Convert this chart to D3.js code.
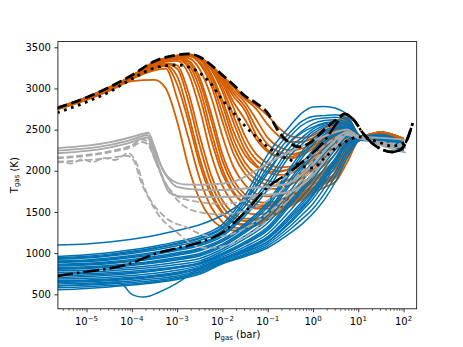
<!DOCTYPE html>
<html>
<head>
<meta charset="UTF-8">
<title>T-p profiles</title>
<script src="https://cdn.jsdelivr.net/npm/d3@7"></script>
<style>
body { margin: 0; background: #fff; }
text { font-family: "DejaVu Sans", sans-serif; }
</style>
</head>
<body>
<svg id="chart" width="463" height="347"></svg>
<script>
// ---- data: log10(p / bar) grids and gas temperatures (K) ----
var orangeLogP = [-5.65,-5,-4.5,-4,-3.5,-3.25,-3,-2.75,-2.5,-2.25,-2,-1.75,-1.5,-1.25,-1,-0.75,-0.5,-0.25,0,0.25,0.5,0.75,1.05,1.5,2.0];
var orangeT = [
  [2745,2860,2970,3090,3105,3000,2600,2050,1650,1420,1310,1275,1290,1340,1410,1490,1570,1650,1730,1800,1870,2100,2390,2420,2330],
  [2748,2866,2980,3115,3220,3240,2880,2400,1900,1560,1380,1310,1300,1340,1410,1490,1580,1670,1760,1840,1920,2160,2395,2430,2340],
  [2749,2867,2982,3118,3240,3270,3050,2600,2080,1700,1480,1370,1340,1360,1420,1500,1590,1680,1770,1850,1940,2200,2398,2435,2345],
  [2750,2868,2984,3120,3255,3295,3240,2850,2300,1850,1570,1430,1390,1400,1450,1520,1610,1700,1790,1870,1970,2240,2400,2440,2350],
  [2750,2870,2988,3124,3250,3280,3150,2690,2150,1750,1500,1380,1350,1370,1430,1510,1600,1690,1780,1860,1950,2220,2400,2440,2350],
  [2752,2872,2992,3128,3265,3305,3280,2950,2420,1950,1640,1480,1420,1420,1460,1530,1620,1710,1800,1880,1980,2260,2400,2440,2350],
  [2754,2876,2996,3132,3280,3325,3335,3180,2750,2200,1820,1600,1500,1470,1490,1550,1640,1730,1830,1920,2030,2300,2405,2450,2360],
  [2755,2878,2998,3135,3285,3335,3355,3250,2900,2380,1960,1720,1600,1560,1570,1620,1700,1790,1890,1990,2110,2350,2405,2450,2360],
  [2756,2880,3000,3138,3290,3340,3365,3290,3000,2480,2020,1740,1600,1540,1540,1590,1670,1760,1860,1960,2080,2340,2410,2450,2360],
  [2757,2881,3001,3140,3295,3345,3370,3320,3080,2620,2120,1820,1660,1590,1580,1620,1690,1780,1880,1990,2120,2370,2408,2452,2362],
  [2758,2882,3002,3142,3300,3350,3375,3340,3130,2700,2200,1880,1710,1630,1610,1640,1710,1800,1900,2010,2140,2380,2410,2455,2365],
  [2758,2884,3004,3145,3305,3355,3378,3370,3230,2900,2420,2040,1830,1720,1690,1700,1760,1850,1950,2070,2210,2420,2415,2460,2370],
  [2759,2885,3005,3146,3308,3357,3382,3392,3320,3100,2700,2290,2030,1890,1830,1820,1860,1940,2040,2160,2310,2480,2416,2462,2376],
  [2760,2886,3006,3146,3310,3358,3384,3395,3300,3040,2600,2200,1960,1830,1780,1780,1830,1910,2010,2130,2280,2460,2415,2460,2375],
  [2760,2887,3007,3147,3312,3360,3388,3405,3350,3150,2800,2380,2100,1950,1880,1860,1900,1970,2070,2190,2340,2500,2420,2465,2380],
  [2761,2888,3008,3148,3312,3362,3390,3408,3360,3180,2860,2470,2190,2050,1990,1990,2030,2110,2210,2330,2460,2560,2420,2465,2380],
  [2762,2888,3008,3148,3315,3364,3392,3410,3370,3230,2960,2580,2250,2070,1980,1950,1970,2040,2130,2250,2390,2540,2420,2465,2380],
  [2762,2888,3008,3148,3316,3363,3391,3409,3372,3245,3010,2660,2330,2130,2040,2000,2010,2070,2160,2280,2420,2555,2420,2467,2382],
  [2763,2889,3009,3149,3318,3366,3394,3411,3375,3260,3060,2760,2420,2200,2090,2040,2050,2110,2200,2310,2440,2570,2420,2470,2385],
  [2763,2889,3009,3149,3318,3366,3395,3412,3376,3250,3090,2830,2620,2380,2230,2170,2170,2220,2300,2400,2510,2610,2420,2470,2385],
  [2764,2890,3010,3150,3318,3367,3396,3412,3378,3260,3110,2900,2730,2430,2250,2170,2150,2190,2270,2370,2490,2600,2420,2470,2385],
  [2764,2890,3010,3150,3319,3367,3396,3412,3379,3262,3120,2940,2780,2520,2320,2230,2200,2230,2300,2400,2510,2610,2420,2468,2388],
  [2764,2890,3010,3150,3320,3368,3397,3413,3380,3265,3130,2975,2830,2620,2400,2290,2250,2270,2340,2430,2530,2620,2420,2465,2390],
  [2765,2890,3010,3150,3320,3369,3398,3413,3380,3270,3145,3010,2870,2750,2560,2420,2350,2350,2400,2480,2570,2640,2420,2460,2390],
  [2765,2891,3012,3152,3322,3370,3400,3414,3375,3275,3150,3025,2890,2790,2670,2520,2420,2400,2430,2510,2600,2650,2420,2460,2390]
];

var blueLogP = [-5.65,-5,-4.5,-4,-3.5,-3,-2.5,-2,-1.5,-1,-0.5,-0.25,0,0.25,0.5,0.75,1.05,1.5,2.0];
var blueT = [
  [1100,1112,1135,1170,1215,1275,1345,1460,1650,2000,2350,2460,2530,2580,2600,2570,2420,2440,2340],
  [960,980,1005,1040,1085,1140,1210,1350,1700,2200,2550,2700,2775,2780,2760,2680,2420,2440,2340],
  [945,962,988,1022,1066,1120,1188,1320,1650,2120,2470,2600,2660,2670,2680,2640,2410,2430,2330],
  [935,950,975,1010,1055,1110,1178,1300,1610,2050,2420,2550,2620,2640,2650,2620,2405,2430,2330],
  [925,940,964,996,1038,1090,1155,1275,1570,1970,2360,2480,2570,2610,2620,2590,2400,2430,2330],
  [905,918,940,970,1010,1060,1122,1240,1510,1880,2290,2400,2510,2570,2590,2575,2400,2420,2320],
  [895,908,929,958,997,1046,1107,1225,1480,1830,2240,2360,2480,2550,2575,2570,2400,2420,2320],
  [885,898,918,946,984,1032,1092,1205,1450,1770,2190,2320,2450,2530,2560,2560,2400,2420,2320],
  [865,876,895,922,958,1004,1060,1170,1360,1620,2040,2230,2390,2490,2530,2545,2400,2410,2310],
  [855,865,883,909,944,989,1044,1155,1340,1590,2000,2190,2355,2465,2515,2538,2398,2410,2310],
  [845,855,872,897,931,975,1028,1140,1320,1560,1970,2150,2320,2440,2500,2530,2395,2410,2310],
  [825,834,850,873,905,946,996,1110,1285,1510,1900,2080,2250,2390,2470,2510,2395,2400,2300],
  [815,824,839,861,892,932,981,1095,1268,1485,1865,2045,2215,2360,2450,2500,2392,2400,2300],
  [805,814,828,850,880,918,966,1080,1250,1460,1830,2010,2180,2330,2430,2490,2390,2400,2300],
  [785,793,806,826,854,890,936,1050,1210,1410,1760,1940,2110,2270,2390,2470,2390,2390,2290],
  [765,772,784,803,829,863,906,1025,1175,1365,1700,1870,2040,2210,2350,2450,2390,2390,2290],
  [745,752,763,780,804,836,885,1000,1140,1320,1640,1800,1970,2150,2310,2430,2385,2380,2280],
  [725,734,746,764,790,825,876,988,1125,1298,1610,1770,1935,2120,2285,2415,2385,2380,2280],
  [705,715,730,752,782,820,868,975,1110,1275,1580,1740,1900,2090,2260,2400,2385,2380,2280],
  [685,694,708,728,756,792,848,955,1080,1235,1520,1680,1840,2030,2210,2370,2380,2370,2270],
  [665,674,687,706,733,768,830,935,1055,1200,1470,1620,1780,1970,2160,2340,2380,2370,2270],
  [655,664,676,695,722,756,821,928,1042,1185,1445,1590,1750,1940,2135,2325,2380,2365,2265],
  [645,654,666,684,710,744,812,920,1030,1170,1420,1560,1720,1910,2110,2310,2380,2360,2260],
  [625,634,646,663,688,722,795,905,1010,1140,1370,1510,1660,1850,2060,2280,2375,2360,2260],
  [605,614,626,643,668,703,778,890,990,1115,1330,1460,1600,1790,2000,2240,2375,2350,2250],
  [580,592,606,625,652,688,762,880,975,1090,1290,1410,1540,1720,1940,2200,2370,2350,2250],
  [555,572,590,612,640,680,745,870,960,1065,1245,1350,1480,1650,1870,2150,2370,2340,2240]
];
// the one blue profile with a cold dip near 1e-4 bar
var blueDipLogP = [-5.65,-5,-4.5,-4.33,-4.15,-4.04,-3.9,-3.75,-3.6,-3.44,-3,-2.56,-1.96,-1.5,-1,-0.5,0,0.5,0.75,1.05,1.5,2.0];
var blueDipT = [600,618,638,648,590,516,478,467,480,516,637,796,940,1020,1140,1390,1700,2100,2330,2380,2350,2250];

// gray profiles, [log10 p, T] pairs
var graySolid = [
  [[-5.65,2275],[-5,2305],[-4.5,2345],[-4,2410],[-3.75,2450],[-3.64,2462],[-3.5,2290],[-3.33,2030],[-3.1,1880],[-2.85,1835],[-2.5,1830],[-2,1845],[-1.75,1865],[-1.5,1930],[-1.17,2034],[-0.9,2120],[-0.66,2190],[-0.25,2300],[0,2360],[0.5,2470],[0.75,2500],[1.05,2410],[1.5,2400],[2.05,2375]],
  [[-5.65,2245],[-5,2272],[-4.5,2312],[-4,2378],[-3.75,2425],[-3.66,2435],[-3.5,2240],[-3.22,1925],[-3,1805],[-2.5,1770],[-2.12,1767],[-1.39,1790],[-0.66,1830],[-0.25,1950],[0,2080],[0.5,2380],[0.75,2470],[1.05,2400],[1.5,2310],[2.05,2220]],
  [[-5.65,2213],[-5,2242],[-4.5,2282],[-4,2348],[-3.75,2395],[-3.66,2405],[-3.5,2200],[-3.16,1730],[-2.87,1685],[-2.12,1682],[-1.39,1694],[-0.5,1745],[0,1950],[0.5,2290],[0.75,2440],[1.05,2400],[1.5,2340],[2.05,2300]]
];
var grayDashed = [
  [[-5.65,2160],[-5,2192],[-4.5,2236],[-4,2310],[-3.77,2380],[-3.64,2350],[-3.5,2150],[-3.3,1890],[-3,1690],[-2.76,1645],[-2.5,1620],[-2,1600],[-1.5,1640],[-1,1760],[-0.5,1970],[0,2200],[0.5,2400],[0.75,2470],[1.05,2400],[1.5,2350],[2.05,2320]],
  [[-5.65,2150],[-5,2182],[-4.5,2224],[-4,2290],[-3.77,2350],[-3.65,2320],[-3.45,2080],[-3.2,1800],[-2.87,1580],[-2.43,1490],[-2,1470],[-1.5,1510],[-1,1640],[-0.5,1860],[0,2120],[0.5,2360],[0.75,2450],[1.05,2400],[1.5,2340],[2.05,2300]],
  [[-5.65,2095],[-5.59,2107],[-5.32,2090],[-5.1,2143],[-4.88,2107],[-4.59,2155],[-4.37,2131],[-4.08,2216],[-3.93,2131],[-3.7,1767],[-3.27,1439],[-2.76,1305],[-2.54,1244],[-2.2,1200],[-2,1205],[-1.5,1300],[-1,1480],[-0.5,1740],[0,2030],[0.5,2320],[0.75,2440],[1.05,2390],[1.5,2320],[2.05,2280]],
  [[-5.65,2110],[-5,2130],[-4.5,2155],[-4.1,2180],[-3.95,2120],[-3.82,1900],[-3.6,1640],[-3.44,1487],[-3,1250],[-2.71,1123],[-2.34,1062],[-2,1080],[-1.5,1200],[-1,1400],[-0.5,1670],[0,1980],[0.5,2300],[0.75,2430],[1.05,2390],[1.5,2330],[2.05,2280]]
];

// black reference profiles
var dashedLogP = [-5.65,-5,-4.5,-4,-3.5,-3,-2.75,-2.5,-2.25,-2,-1.75,-1.5,-1.25,-1,-0.75,-0.5,-0.3,-0.1,0.25,0.5,0.7,0.9,1.1,1.3,1.5,1.75,1.95,2.1,2.2];
var dashedT = [2762,2890,3015,3160,3330,3407,3419,3383,3285,3164,3042,2908,2820,2700,2470,2330,2290,2330,2500,2617,2690,2617,2459,2338,2265,2228,2265,2411,2580];
var dottedLogP = [-5.65,-5,-4.5,-4,-3.5,-3,-2.75,-2.5,-2.25,-2,-1.75,-1.5,-1.25,-1,-0.75,-0.5,-0.25,0,0.25,0.5,0.75,1,1.25,1.5,1.75,2.05];
var dottedT = [2705,2836,2957,3115,3249,3285,3261,3188,3054,2860,2702,2544,2411,2289,2192,2131,2058,2034,2155,2277,2362,2411,2386,2338,2301,2345];
var dashDotLogP = [-5.65,-5,-4.5,-4,-3.5,-3,-2.5,-2,-1.5,-1,-0.5,0,0.25,0.5,0.7,0.9,1.1,1.3,1.5,1.75,1.95,2.1,2.2];
var dashDotT = [723,775,813,880,990,1060,1130,1250,1500,1800,1990,2220,2360,2560,2690,2617,2459,2338,2265,2228,2265,2411,2580];

var yTicks = [500,1000,1500,2000,2500,3000,3500];
var xDecades = [-5,-4,-3,-2,-1,0,1,2];

// ---- layout ----
var svg = d3.select("#chart");
var mLeft = 57.9, mRight = 416.7, mTop = 41.6, mBottom = 308.8;

svg.append("rect").attr("width", 463).attr("height", 347).attr("fill", "white");

var xScale = d3.scaleLog().domain([Math.pow(10, -5.632), Math.pow(10, 2.289)]).range([mLeft, mRight]);
var yScale = d3.scaleLinear().domain([324, 3569]).range([mBottom, mTop]);

svg.append("clipPath").attr("id", "plotClip")
  .append("rect").attr("x", mLeft).attr("y", mTop).attr("width", mRight - mLeft).attr("height", mBottom - mTop);

var line = d3.line()
  .x(function(d) { return xScale(Math.pow(10, d[0])); })
  .y(function(d) { return yScale(d[1]); })
  .curve(d3.curveMonotoneX);

function zip(lp, t) { return lp.map(function(v, i) { return [v, t[i]]; }); }

var plot = svg.append("g").attr("clip-path", "url(#plotClip)");

// orange first, then blue, gray, black on top
plot.append("g").selectAll("path").data(orangeT).enter().append("path")
  .attr("d", function(row) { return line(zip(orangeLogP, row)); })
  .attr("fill", "none").attr("stroke", "#D55E00").attr("stroke-width", 1.8);

plot.append("g").selectAll("path").data(blueT).enter().append("path")
  .attr("d", function(row) { return line(zip(blueLogP, row)); })
  .attr("fill", "none").attr("stroke", "#0072B2").attr("stroke-width", 1.5);
plot.append("path").attr("d", line(zip(blueDipLogP, blueDipT)))
  .attr("fill", "none").attr("stroke", "#0072B2").attr("stroke-width", 1.5);

plot.append("g").selectAll("path").data(grayDashed).enter().append("path")
  .attr("d", line)
  .attr("fill", "none").attr("stroke", "#A9A9A9").attr("stroke-width", 1.8)
  .attr("stroke-dasharray", "6.7,2.9");
plot.append("g").selectAll("path").data(graySolid).enter().append("path")
  .attr("d", line)
  .attr("fill", "none").attr("stroke", "#A9A9A9").attr("stroke-width", 1.9);

plot.append("path").attr("d", line(zip(dashDotLogP, dashDotT)))
  .attr("fill", "none").attr("stroke", "black").attr("stroke-width", 2.5)
  .attr("stroke-dasharray", "16,4,2.5,4");
plot.append("path").attr("d", line(zip(dottedLogP, dottedT)))
  .attr("fill", "none").attr("stroke", "black").attr("stroke-width", 2.8)
  .attr("stroke-dasharray", "2.8,4.6");
plot.append("path").attr("d", line(zip(dashedLogP, dashedT)))
  .attr("fill", "none").attr("stroke", "black").attr("stroke-width", 2.8)
  .attr("stroke-dasharray", "10.4,4.5");

// ---- axes ----
var majors = xDecades.map(function(e) { return Math.pow(10, e); });
var minors = [];
for (var e = -6; e <= 2; e++) {
  for (var k = 2; k <= 9; k++) {
    var v = k * Math.pow(10, e);
    if (v > xScale.domain()[0] && v < xScale.domain()[1]) minors.push(v);
  }
}

var xMajor = svg.append("g").attr("transform", "translate(0," + mBottom + ")")
  .call(d3.axisBottom(xScale).tickValues(majors).tickSize(3.5).tickSizeOuter(0).tickFormat(""));
var xMinor = svg.append("g").attr("transform", "translate(0," + mBottom + ")")
  .call(d3.axisBottom(xScale).tickValues(minors).tickSize(2).tickSizeOuter(0).tickFormat(""));
var yAxis = svg.append("g").attr("transform", "translate(" + mLeft + ",0)")
  .call(d3.axisLeft(yScale).tickValues(yTicks).tickSize(3.5).tickSizeOuter(0).tickPadding(3.5)
    .tickFormat(d3.format("d")));

[xMajor, xMinor, yAxis].forEach(function(g) {
  g.select(".domain").remove();
  g.selectAll(".tick line").attr("stroke", "black").attr("stroke-width", 0.8);
});
xMinor.selectAll(".tick line").attr("stroke-width", 0.6);
yAxis.selectAll(".tick text")
  .attr("font-family", "DejaVu Sans").attr("font-size", 10).attr("fill", "black");

// x tick labels with superscript exponents
var xl = svg.append("g");
xDecades.forEach(function(e) {
  var t = xl.append("text")
    .attr("x", xScale(Math.pow(10, e)))
    .attr("y", 325.2)
    .attr("text-anchor", "middle")
    .attr("font-size", 10)
    .attr("fill", "black")
    .text("10");
  t.append("tspan").attr("font-size", 7).attr("dy", -4.3)
    .text(e < 0 ? "\u2212" + Math.abs(e) : String(e));
});

// frame
svg.append("rect")
  .attr("x", mLeft).attr("y", mTop)
  .attr("width", mRight - mLeft).attr("height", mBottom - mTop)
  .attr("fill", "none").attr("stroke", "black").attr("stroke-width", 0.8);

// axis labels
var xlab = svg.append("text")
  .attr("x", (mLeft + mRight) / 2).attr("y", 338)
  .attr("text-anchor", "middle").attr("font-size", 10).attr("fill", "black")
  .text("p");
xlab.append("tspan").attr("font-size", 7).attr("dy", 1.8).text("gas");
xlab.append("tspan").attr("dy", -1.8).text(" (bar)");

var ylab = svg.append("text")
  .attr("transform", "translate(17.5," + ((mTop + mBottom) / 2) + ") rotate(-90)")
  .attr("text-anchor", "middle").attr("font-size", 10).attr("fill", "black")
  .text("T");
ylab.append("tspan").attr("font-size", 7).attr("dy", 1.8).text("gas");
ylab.append("tspan").attr("dy", -1.8).text(" (K)");
</script>
</body>
</html>
